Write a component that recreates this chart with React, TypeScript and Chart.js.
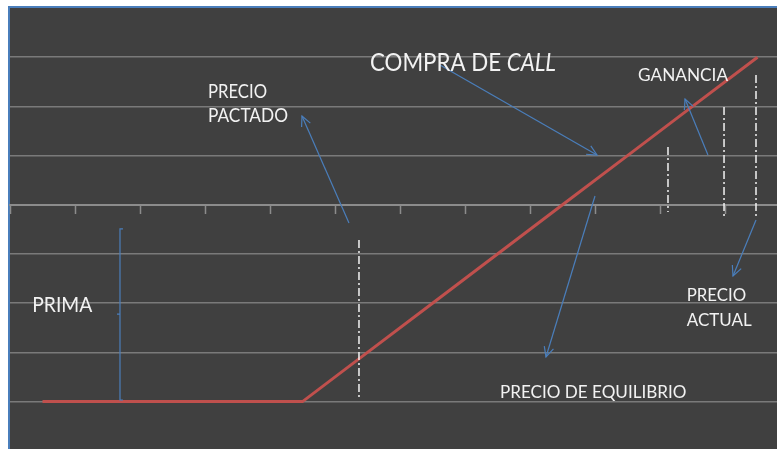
import React, { useEffect, useRef } from 'react';
import { Chart, registerables } from 'chart.js';

Chart.register(...registerables);

// ---- data ----
const precios = [0, 1, 2, 3, 4, 5, 6, 7, 8, 9, 10, 11];
const resultado = [-4, -4, -4, -4, -4, -3, -2, -1, 0, 1, 2, 3];
const xTickValues = [-0.5, 0.5, 1.5, 2.5, 3.5, 4.5, 5.5, 6.5, 7.5, 8.5, 9.5, 10.5];
const yTickValues = [-4, -3, -2, -1, 0, 1, 2, 3];

// ---- annotations (data coordinates) ----
type Pt = [number, number];
const arrows: { from: Pt; to: Pt }[] = [
  { from: [4.715, -0.37], to: [3.992, 1.805] },
  { from: [6.115, 2.84], to: [8.531, 1.012] },
  { from: [10.238, 1.012], to: [9.885, 2.15] },
  { from: [8.5, 0.179], to: [7.746, -3.093] },
  { from: [10.977, -0.309], to: [10.623, -1.447] },
];
const dashLines: { x: number; y1: number; y2: number }[] = [
  { x: 4.869, y1: -0.715, y2: -3.947 },
  { x: 9.623, y1: 1.175, y2: -0.146 },
  { x: 10.485, y1: 1.988, y2: -0.268 },
  { x: 10.977, y1: 2.638, y2: -0.268 },
];
const labels: { parts: { text: string; italic?: boolean }[]; x: number; y: number; width: number; cap: number }[] = [
  { parts: [{ text: 'COMPRA DE ' }, { text: 'CALL', italic: true }], x: 5.038, y: 2.72, width: 186, cap: 17.4 },
  { parts: [{ text: 'PRECIO' }], x: 2.546, y: 2.171, width: 59, cap: 13.2 },
  { parts: [{ text: 'PACTADO' }], x: 2.546, y: 1.683, width: 80, cap: 13.2 },
  { parts: [{ text: 'GANANCIA' }], x: 9.162, y: 2.516, width: 90, cap: 13 },
  { parts: [{ text: 'PRIMA' }], x: -0.157, y: -2.185, width: 60, cap: 15.3 },
  { parts: [{ text: 'PRECIO' }], x: 9.911, y: -1.955, width: 59.5, cap: 12.8 },
  { parts: [{ text: 'ACTUAL' }], x: 9.911, y: -2.463, width: 65, cap: 12.8 },
  { parts: [{ text: 'PRECIO DE EQUILIBRIO' }], x: 7.038, y: -3.933, width: 186.5, cap: 12.8 },
];
const brace = { x: 1.192, top: -0.49, mid: -2.22, bottom: -3.967 };

const BG = '#404040';
const BLUE = '#4a7ebb';
const FONT = 'Lato, "Open Sans", sans-serif';
const CAP_RATIO = 0.7165;

const framePlugin = {
  id: 'frame',
  beforeDraw(chart: any) {
    const { ctx, width, height, chartArea } = chart;
    ctx.save();
    ctx.fillStyle = '#ffffff';
    ctx.fillRect(0, 0, width, height);
    ctx.fillStyle = BLUE;
    ctx.fillRect(chartArea.left - 2, chartArea.top - 2, width, 2);
    ctx.fillRect(chartArea.left - 2, chartArea.top - 2, 2, height);
    ctx.fillStyle = BG;
    ctx.fillRect(chartArea.left, chartArea.top, chartArea.right - chartArea.left, chartArea.bottom - chartArea.top);
    ctx.restore();
  },
};

const annotationPlugin = {
  id: 'annotations',
  afterDatasetsDraw(chart: any) {
    const { ctx } = chart;
    const xs = chart.scales.x;
    const ys = chart.scales.y;
    const px = (v: number) => xs.getPixelForValue(v);
    const py = (v: number) => ys.getPixelForValue(v);
    ctx.save();

    // dash-dot vertical lines
    ctx.strokeStyle = '#f2f2f2';
    ctx.lineWidth = 1.5;
    ctx.setLineDash([8, 3, 2, 3]);
    dashLines.forEach((d) => {
      ctx.beginPath();
      ctx.moveTo(px(d.x), py(d.y1));
      ctx.lineTo(px(d.x), py(d.y2));
      ctx.stroke();
    });
    ctx.setLineDash([]);

    // arrows
    ctx.strokeStyle = BLUE;
    ctx.lineWidth = 1.2;
    arrows.forEach((a) => {
      const x1 = px(a.from[0]), y1 = py(a.from[1]);
      const x2 = px(a.to[0]), y2 = py(a.to[1]);
      ctx.beginPath();
      ctx.moveTo(x1, y1);
      ctx.lineTo(x2, y2);
      ctx.stroke();
      const ang = Math.atan2(y2 - y1, x2 - x1);
      const L = 11, w = Math.PI / 7;
      ctx.beginPath();
      ctx.moveTo(x2 - L * Math.cos(ang - w), y2 - L * Math.sin(ang - w));
      ctx.lineTo(x2, y2);
      ctx.lineTo(x2 - L * Math.cos(ang + w), y2 - L * Math.sin(ang + w));
      ctx.stroke();
    });

    // brace
    const bx = px(brace.x);
    ctx.beginPath();
    ctx.moveTo(bx + 3, py(brace.top));
    ctx.lineTo(bx, py(brace.top));
    ctx.lineTo(bx, py(brace.bottom));
    ctx.lineTo(bx + 3, py(brace.bottom));
    ctx.moveTo(bx, py(brace.mid));
    ctx.lineTo(bx - 3, py(brace.mid));
    ctx.stroke();

    // labels
    ctx.fillStyle = '#f2f2f2';
    ctx.textBaseline = 'alphabetic';
    ctx.textAlign = 'left';
    labels.forEach((l) => {
      const size = l.cap / CAP_RATIO;
      let total = 0;
      l.parts.forEach((p) => {
        ctx.font = `${p.italic ? 'italic ' : ''}${size}px ${FONT}`;
        total += ctx.measureText(p.text).width;
      });
      const sx = l.width / total;
      ctx.save();
      ctx.translate(px(l.x), py(l.y));
      ctx.scale(sx, 1);
      let x = 0;
      l.parts.forEach((p) => {
        ctx.font = `${p.italic ? 'italic ' : ''}${size}px ${FONT}`;
        ctx.fillText(p.text, x, 0);
        x += ctx.measureText(p.text).width;
      });
      ctx.restore();
    });
    ctx.restore();
  },
};

export default function App() {
  const ref = useRef<HTMLCanvasElement | null>(null);
  useEffect(() => {
    if (!ref.current) return;
    const chart = new Chart(ref.current, {
      type: 'line',
      data: {
        datasets: [
          {
            label: 'Compra de call',
            data: precios.map((p, i) => ({ x: p, y: resultado[i] })),
            borderColor: '#c0504d',
            borderWidth: 3,
            pointRadius: 0,
            fill: false,
            tension: 0,
          },
        ],
      },
      options: {
        animation: false,
        responsive: false,
        events: [],
        layout: { padding: { left: 10, top: 8, right: 0, bottom: 0 } },
        plugins: { legend: { display: false }, tooltip: { enabled: false } },
        scales: {
          x: {
            type: 'linear',
            position: { y: 0 },
            min: -0.5,
            max: 11.3,
            afterBuildTicks: (scale: any) => {
              scale.ticks = xTickValues.map((v) => ({ value: v }));
            },
            ticks: { display: false },
            grid: {
              drawOnChartArea: false,
              drawTicks: true,
              tickLength: 8,
              tickColor: '#8c8c8c',
              tickWidth: 1.5,
            },
            border: { display: true, color: '#8c8c8c', width: 2 },
          },
          y: {
            type: 'linear',
            min: -4.963,
            max: 4,
            afterBuildTicks: (scale: any) => {
              scale.ticks = yTickValues.map((v) => ({ value: v }));
            },
            ticks: { display: false },
            grid: { drawTicks: false, color: '#7a7a7a', lineWidth: 1.5 },
            border: { display: false },
          },
        },
      },
      plugins: [framePlugin, annotationPlugin],
    } as any);
    return () => chart.destroy();
  }, []);
  return (
    <div style={{ position: 'fixed', left: 0, top: 0, width: 777, height: 449, background: '#fff' }}>
      <canvas ref={ref} width={777} height={449} style={{ display: 'block', width: 777, height: 449 }} />
    </div>
  );
}
